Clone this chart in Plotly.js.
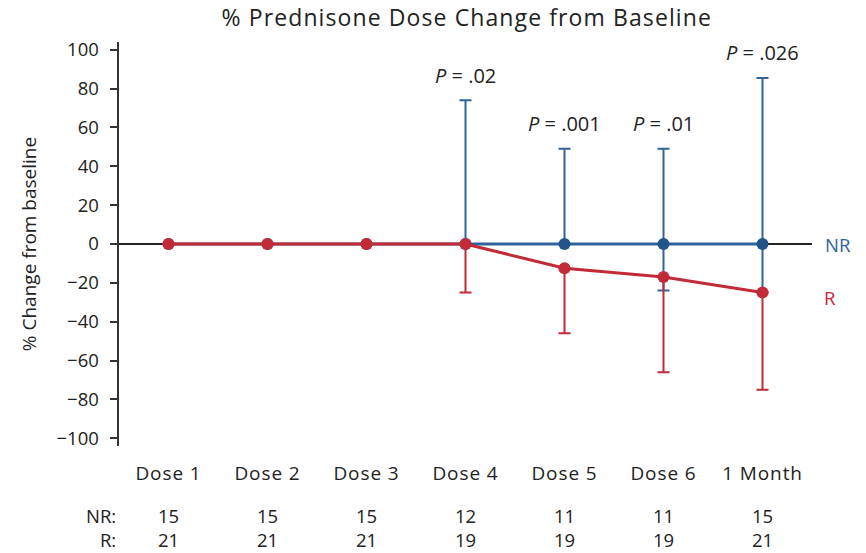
<!DOCTYPE html>
<html>
<head>
<meta charset="utf-8">
<script src="https://cdn.plot.ly/plotly-3.0.1.min.js"></script>
<style>
  html, body { margin: 0; padding: 0; background: #fff; }
  #chart { width: 866px; height: 553px; }
  /* slightly wider tracking for the title and category labels */
  #chart .gtitle { letter-spacing: 1.1px; }
  #chart .xtick text { letter-spacing: 0.9px; }
</style>
</head>
<body>
<div id="chart"></div>
<script>
// Time points
const timepoints = ['Dose 1', 'Dose 2', 'Dose 3', 'Dose 4', 'Dose 5', 'Dose 6', '1 Month'];

// Non-responders (NR): mean % change and error bar extents
const nrChange = [0, 0, 0, 0, 0, 0, 0];
const nrErrUp = [0, 0, 0, 74, 49, 49, 85.5];
const nrErrDown = [0, 0, 0, 0, 0, 24, 25];

// Responders (R): mean % change and error bar extents
const rChange = [0, 0, 0, 0, -12.5, -17, -25];
const rErrUp = [0, 0, 0, 0, 0, 0, 0];
const rErrDown = [0, 0, 0, 25, 33.5, 49, 50];

// Patients per group at each time point
const groupLabels = ['NR:', 'R:'];
const nrCounts = [15, 15, 15, 12, 11, 11, 15];
const rCounts = [21, 21, 21, 19, 19, 19, 21];

// P values shown above time points
const pLabels = ['', '', '', 'P = .02', 'P = .001', 'P = .01', 'P = .026'];
const pHeights = [null, null, null, 87, 62, 62, 98.5];

const BLUE = '#2f639c';
const BLUE_DARK = '#22538b';
const RED = '#c22a38';
const TEXT = '#222222';
const FONT = '"Open Sans", "Noto Sans", sans-serif';
const FS = 18.5;

const nrTrace = {
  x: timepoints, y: nrChange, type: 'scatter', mode: 'lines+markers', name: 'NR',
  line: { color: BLUE, width: 3 },
  marker: { color: BLUE_DARK, size: 12 },
  error_y: { type: 'data', symmetric: false, array: nrErrUp, arrayminus: nrErrDown,
             color: BLUE, thickness: 2, width: 6 },
  cliponaxis: false
};

const rTrace = {
  x: timepoints, y: rChange, type: 'scatter', mode: 'lines+markers', name: 'R',
  line: { color: RED, width: 3 },
  marker: { color: RED, size: 12 },
  error_y: { type: 'data', symmetric: false, array: rErrUp, arrayminus: rErrDown,
             color: RED, thickness: 2, width: 6 },
  cliponaxis: false
};

const annotations = [];

// P value labels
timepoints.forEach((t, i) => {
  if (!pLabels[i]) return;
  annotations.push({
    x: t, y: pHeights[i], xref: 'x', yref: 'y',
    text: pLabels[i].replace('P', '<i>P</i>'),
    showarrow: false, font: { family: FONT, size: 20, color: TEXT },
    xanchor: 'center', yanchor: 'middle'
  });
});

// Patient counts under the axis: one two-line block per time point
const countsY = -0.2017;
const countFont = { family: FONT, size: 18.5, color: TEXT };
annotations.push({
  x: 0, y: countsY, xref: 'paper', yref: 'paper', xshift: -1,
  text: groupLabels.join('<br>'), align: 'right',
  showarrow: false, xanchor: 'right', yanchor: 'middle', font: countFont
});
timepoints.forEach((t, i) => {
  annotations.push({
    x: t, y: countsY, xref: 'x', yref: 'paper',
    text: nrCounts[i] + '<br>' + rCounts[i], align: 'center',
    showarrow: false, xanchor: 'center', yanchor: 'middle', font: countFont
  });
});

// Series labels at the right end
annotations.push({
  x: 1, y: nrChange[nrChange.length - 1], xref: 'paper', yref: 'y', text: 'NR',
  showarrow: false, xanchor: 'left', yanchor: 'middle', xshift: 11,
  font: { family: FONT, size: FS, color: BLUE }
});
annotations.push({
  x: 1, y: rChange[rChange.length - 1], xref: 'paper', yref: 'y', text: 'R',
  showarrow: false, xanchor: 'left', yanchor: 'middle', xshift: 10, yshift: -5,
  font: { family: FONT, size: FS, color: RED }
});

const layout = {
  width: 866, height: 553,
  margin: { l: 119, r: 54, t: 42, b: 107 },
  paper_bgcolor: '#fff', plot_bgcolor: '#fff',
  showlegend: false,
  font: { family: FONT, color: TEXT },
  title: {
    text: '% Prednisone Dose Change from Baseline',
    font: { family: FONT, size: 23, color: TEXT },
    x: 0.539, xanchor: 'center', y: 0.967, yanchor: 'middle'
  },
  xaxis: {
    type: 'category', range: [-0.5, 6.5],
    showgrid: false, zeroline: false, showline: false, ticks: '',
    tickfont: { family: FONT, size: 19, color: TEXT },
    ticklabelstandoff: 14, fixedrange: true
  },
  yaxis: {
    range: [-104, 104], dtick: 20, tick0: 0,
    showgrid: false, showline: true, linecolor: '#333', linewidth: 2.5,
    ticks: 'outside', ticklen: 7, tickwidth: 2, tickcolor: '#333',
    ticklabelstandoff: 7,
    zeroline: true, zerolinecolor: '#222', zerolinewidth: 2,
    tickfont: { family: FONT, size: FS, color: TEXT },
    title: { text: '% Change from baseline', font: { family: FONT, size: 19, color: TEXT }, standoff: 15 },
    fixedrange: true
  },
  annotations: annotations
};

Plotly.newPlot('chart', [nrTrace, rTrace], layout, { displayModeBar: false, staticPlot: true });
</script>
</body>
</html>
